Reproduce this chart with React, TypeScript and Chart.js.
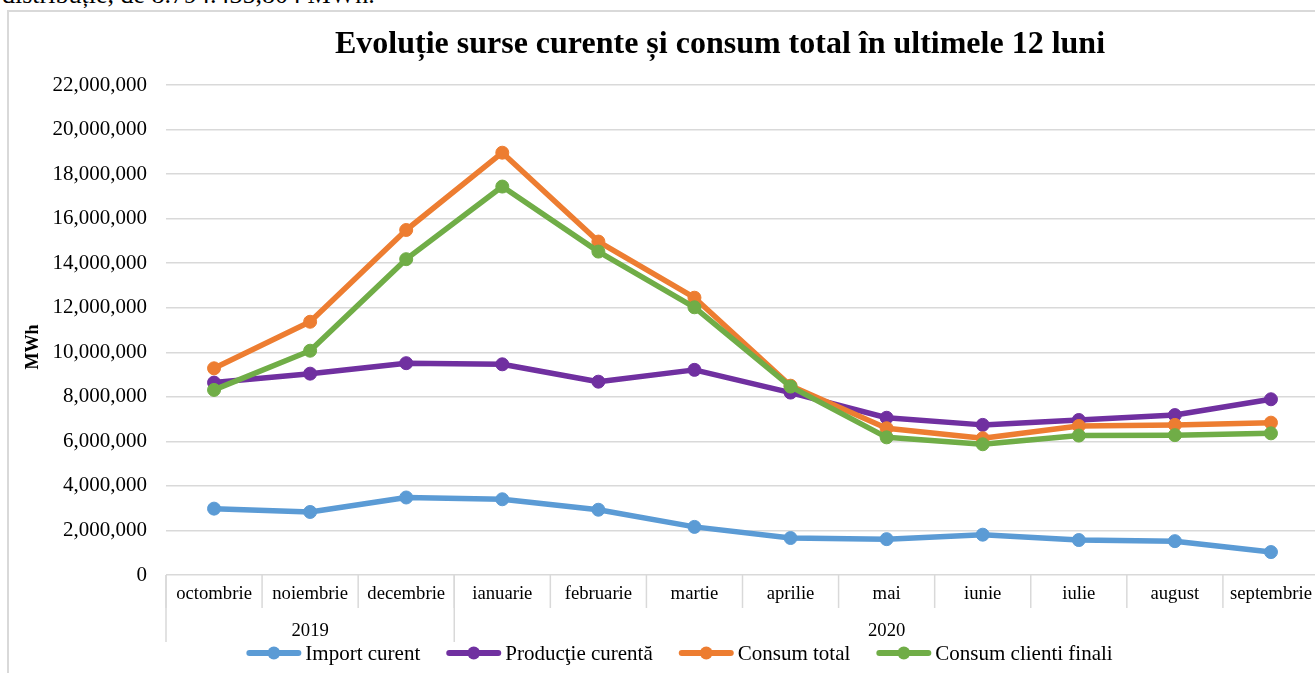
import React, { useEffect, useRef } from "react";
import { Chart, registerables } from "chart.js";

Chart.register(...registerables);

const months = [
  "octombrie", "noiembrie", "decembrie", "ianuarie", "februarie", "martie",
  "aprilie", "mai", "iunie", "iulie", "august", "septembrie",
];
const years = ["2019", "2020"];
const yearSpans = [3, 9];

const importCurent = [2980000, 2830000, 3480000, 3400000, 2930000, 2160000, 1660000, 1610000, 1810000, 1570000, 1520000, 1030000];
const productieCurenta = [8640000, 9040000, 9510000, 9460000, 8680000, 9210000, 8190000, 7060000, 6740000, 6960000, 7180000, 7890000];
const consumTotal = [9280000, 11370000, 15490000, 18960000, 14970000, 12450000, 8500000, 6590000, 6140000, 6690000, 6740000, 6840000];
const consumClienti = [8310000, 10070000, 14180000, 17440000, 14520000, 12020000, 8460000, 6180000, 5870000, 6260000, 6280000, 6360000];

const seriesNames = ["Import curent", "Producţie curentă", "Consum total", "Consum clienti finali"];
const seriesColors = ["#5B9BD5", "#7030A0", "#ED7D31", "#70AD47"];

const yMin = 0;
const yMax = 22000000;
const yStep = 2000000;

const titleText = "Evoluție surse curente și consum total în ultimele 12 luni";
const yTitleText = "MWh";
const topText = "distribuție, de 8.794.435,804 MWh.";

const FONT = "'Liberation Serif', 'Times New Roman', serif";

const decorPlugin = {
  id: "decor",
  afterDraw(chart: any) {
    const ctx = chart.ctx as CanvasRenderingContext2D;
    const xs = chart.scales.x;
    const area = chart.chartArea;
    const step = xs.getPixelForValue(1) - xs.getPixelForValue(0);
    const start = xs.getPixelForValue(0) - step / 2;
    ctx.save();
    ctx.strokeStyle = "#d9d9d9";
    ctx.lineWidth = 1.5;
    for (let i = 0; i <= months.length; i++) {
      const px = start + i * step;
      ctx.beginPath();
      ctx.moveTo(px, area.bottom);
      ctx.lineTo(px, area.bottom + 33);
      ctx.stroke();
    }
    let idx = 0;
    const bounds = [0];
    yearSpans.forEach((s) => { idx += s; bounds.push(idx); });
    bounds.forEach((b) => {
      const px = start + b * step;
      ctx.beginPath();
      ctx.moveTo(px, area.bottom);
      ctx.lineTo(px, area.bottom + 67);
      ctx.stroke();
    });
    ctx.fillStyle = "#000";
    ctx.font = `18.7px ${FONT}`;
    ctx.textAlign = "center";
    ctx.textBaseline = "middle";
    years.forEach((y, i) => {
      const cx = start + ((bounds[i] + bounds[i + 1]) / 2) * step;
      ctx.fillText(y, cx, area.bottom + 56);
    });

    ctx.font = `bold 32px ${FONT}`;
    ctx.textAlign = "center";
    ctx.textBaseline = "alphabetic";
    ctx.fillText(titleText, 711, 41);

    ctx.save();
    ctx.translate(24, 335);
    ctx.rotate(-Math.PI / 2);
    ctx.font = `bold 18px ${FONT}`;
    ctx.textAlign = "center";
    ctx.textBaseline = "middle";
    ctx.fillText(yTitleText, 0, 0);
    ctx.restore();

    ctx.font = `21px ${FONT}`;
    const lineLen = 55;
    const gapText = 4;
    const gapItem = 26;
    const widths = seriesNames.map((n) => ctx.measureText(n).width);
    const total = widths.reduce((a, w) => a + lineLen + gapText + w, 0) + gapItem * (seriesNames.length - 1);
    let lx = 670.5 - total / 2;
    const ly = 641;
    seriesNames.forEach((n, i) => {
      ctx.strokeStyle = seriesColors[i];
      ctx.lineWidth = 6;
      ctx.lineCap = "round";
      ctx.beginPath();
      ctx.moveTo(lx + 3, ly);
      ctx.lineTo(lx + lineLen - 3, ly);
      ctx.stroke();
      ctx.fillStyle = seriesColors[i];
      ctx.beginPath();
      ctx.arc(lx + lineLen / 2, ly, 6.5, 0, Math.PI * 2);
      ctx.fill();
      ctx.fillStyle = "#000";
      ctx.textAlign = "left";
      ctx.textBaseline = "alphabetic";
      ctx.fillText(n, lx + lineLen + gapText, ly + 7);
      lx += lineLen + gapText + widths[i] + gapItem;
    });
    ctx.restore();
  },
};

export default function App() {
  const ref = useRef<HTMLCanvasElement | null>(null);

  useEffect(() => {
    if (!ref.current) return;
    const data = [importCurent, productieCurenta, consumTotal, consumClienti];
    const orders = [3, 2, 1, 0];
    const chart = new Chart(ref.current, {
      type: "line",
      data: {
        labels: months,
        datasets: data.map((d, i) => ({
          label: seriesNames[i],
          data: d,
          borderColor: seriesColors[i],
          backgroundColor: seriesColors[i],
          pointBackgroundColor: seriesColors[i],
          pointBorderColor: seriesColors[i],
          pointBorderWidth: 1,
          pointRadius: 6.5,
          pointHoverRadius: 6.5,
          borderWidth: 5.5,
          tension: 0,
          fill: false,
          order: orders[i],
          borderCapStyle: "round" as const,
          borderJoinStyle: "round" as const,
        })),
      },
      options: {
        responsive: false,
        animation: false,
        events: [],
        layout: { padding: { top: 73, right: 90, left: 0, bottom: 0 } },
        plugins: {
          legend: { display: false },
          title: { display: false },
          tooltip: { enabled: false },
        },
        scales: {
          x: {
            type: "category",
            offset: true,
            grid: { display: false, drawTicks: false },
            border: { display: false },
            ticks: {
              color: "#000",
              font: { family: FONT, size: 18.7 },
              padding: 8,
              maxRotation: 0,
              autoSkip: false,
            },
            afterFit: (s: any) => { s.height = 107; },
          },
          y: {
            min: yMin,
            max: yMax,
            grid: { color: "#d9d9d9", lineWidth: 1.5, drawTicks: false },
            border: { display: false },
            ticks: {
              stepSize: yStep,
              color: "#000",
              font: { family: FONT, size: 21 },
              padding: 19,
              callback: (v: any) => Number(v).toLocaleString("en-US"),
            },
            afterFit: (s: any) => { s.width = 157; },
          },
        },
      },
      plugins: [decorPlugin],
    });
    return () => chart.destroy();
  }, []);

  return (
    <div style={{ position: "fixed", left: 0, top: 0, width: 1315, height: 673, overflow: "hidden", background: "#fff" }}>
      <div
        style={{
          position: "absolute", left: 2, top: -18, fontFamily: FONT, fontSize: 26,
          lineHeight: "26px", whiteSpace: "nowrap", color: "#000",
        }}
      >
        {topText}
      </div>
      <div
        style={{
          position: "absolute", left: 7, top: 10, width: 1420, height: 700,
          border: "2px solid #d9d9d9", background: "#fff",
        }}
      >
        <canvas ref={ref} width={1400} height={670} style={{ display: "block", width: 1400, height: 670 }} />
      </div>
    </div>
  );
}
